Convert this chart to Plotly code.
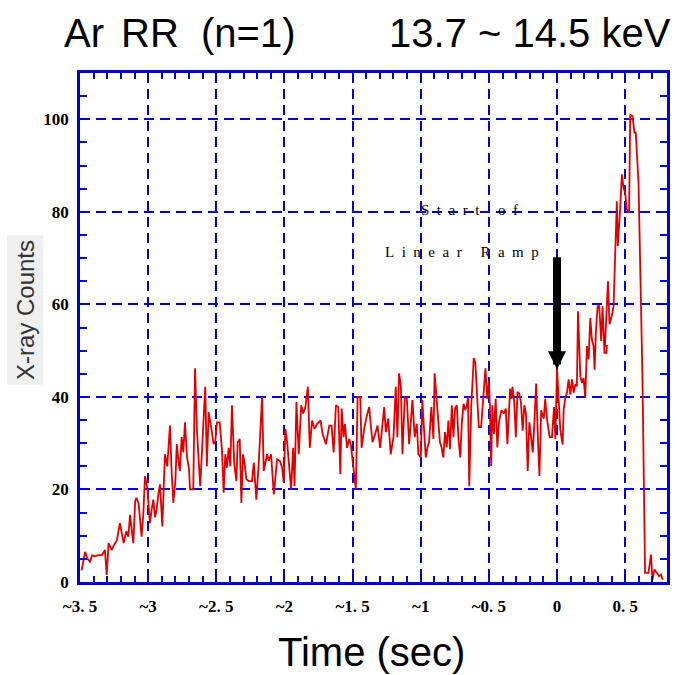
import plotly.graph_objects as go

# ---- data ----
time_a = [-3.488,-3.463,-3.445,-3.427,-3.41,-3.39,-3.37,-3.34,-3.317,-3.304,-3.29,-3.28,-3.268,-3.25,-3.23,
          -3.207,-3.19,-3.18,-3.16,-3.145,-3.133,-3.12,-3.109,-3.095,-3.085,-3.07,-3.048,-3.035,-3.023,-3.005,
          -2.987,-2.975,-2.962,-2.95,-2.938,-2.925,-2.913,-2.896,-2.885,-2.877,-2.86,-2.84,-2.828,-2.815,-2.80,
          -2.79,-2.777,-2.767,-2.754,-2.742,-2.73,-2.715,-2.70,-2.693,-2.68,-2.669,-2.656]
counts_a = [2.5,6.5,5.0,4.4,5.8,5.5,5.8,5.8,6.9,1.5,8.4,7.5,6.9,8.0,9.0,
            12.7,9.5,8.4,11.0,9.8,14.5,11.5,8.4,17.5,18.2,17.0,9.8,15.0,22.9,20.0,
            12.7,15.5,17.8,14.0,15.6,19.0,21.1,12.0,20.0,27.6,25.0,33.8,24.0,17.1,22.0,
            29.8,26.0,24.0,31.3,28.0,34.5,27.0,24.4,20.0,20.0,20.0,46.2]

time_b = [-2.642,-2.618,-2.581,-2.569,-2.556,-2.532,-2.52,-2.507,-2.495,-2.475,-2.458,-2.446,-2.434,-2.422,
          -2.409,-2.397,-2.385,-2.368,-2.353,-2.343,-2.328,-2.316,-2.304,-2.292,-2.279,-2.262,-2.238,-2.225,
          -2.206,-2.189,-2.164,-2.152,-2.127,-2.115,-2.098,-2.078,-2.054,-2.034,-2.017,-2.005,-1.993,-1.98,
          -1.968,-1.951,-1.936,-1.926,-1.912,-1.895,-1.877,-1.863,-1.846,-1.828,-1.814,-1.797,-1.779,-1.76,-1.735]
counts_b = [32.7,20.7,42.2,25.0,36.7,32.4,29.8,30.5,34.5,34.5,28.4,19.3,27.6,24.7,
            29.0,25.0,38.2,25.5,21.8,30.2,30.9,17.1,27.6,25.5,22.2,21.8,21.8,25.8,
            17.8,25.5,40.0,24.0,27.6,26.2,27.6,18.9,26.5,26.2,24.7,21.5,33.1,30.2,
            25.5,20.0,29.0,20.7,38.9,27.6,38.2,36.4,37.8,42.2,29.0,34.9,33.1,34.2,34.9]

time_c = [-1.72,-1.695,-1.671,-1.654,-1.639,-1.622,-1.605,-1.59,-1.58,-1.566,-1.556,-1.541,-1.524,-1.512,
          -1.488,-1.476,-1.463,-1.444,-1.434,-1.415,-1.395,-1.378,-1.366,-1.354,-1.341,-1.329,-1.317,-1.298,
          -1.28,-1.268,-1.256,-1.239,-1.22,-1.2,-1.183,-1.171,-1.159,-1.146,-1.134,-1.117,-1.102,-1.085,
          -1.061,-1.044,-1.029,-1.017,-1.0,-0.988,-0.976,-0.963,-0.951,-0.939,-0.922,-0.907,-0.898]
counts_c = [32.0,29.8,33.8,33.8,28.0,38.2,37.8,23.3,37.5,31.3,34.2,29.0,30.9,29.5,
            23.3,20.0,40.0,40.0,29.0,33.1,36.0,37.8,33.8,30.2,31.3,32.7,33.8,29.0,
            34.2,37.8,32.4,35.3,27.6,31.3,42.2,31.3,45.1,42.5,27.6,40.0,39.6,29.8,
            39.3,31.3,34.2,27.6,26.9,39.3,33.1,26.9,29.0,30.2,37.8,30.9,45.1]

time_d = [-0.871,-0.859,-0.847,-0.834,-0.822,-0.809,-0.797,-0.785,-0.772,-0.76,-0.748,-0.735,-0.723,-0.71,
          -0.698,-0.686,-0.673,-0.661,-0.653,-0.644,-0.629,-0.611,-0.599,-0.587,-0.574,-0.557,-0.542,-0.525,
          -0.512,-0.5,-0.493,-0.483,-0.475,-0.463,-0.45,-0.438,-0.426,-0.408,-0.389,-0.376,-0.364,-0.344,
          -0.334,-0.327,-0.314,-0.302,-0.29,-0.277,-0.265,-0.252,-0.24,-0.228,-0.215,-0.203,-0.191,-0.178,
          -0.166,-0.153,-0.141,-0.129,-0.116,-0.097,-0.087,-0.072,-0.054,-0.037,-0.022,-0.012,0.0]
counts_d = [33.1,30.2,29.1,26.9,32.4,29.1,34.9,28.7,38.2,31.3,37.5,38.2,30.9,26.9,
            34.5,38.5,37.1,38.2,40.0,20.7,38.2,48.4,47.3,40.0,33.5,33.5,39.3,46.2,
            39.6,43.3,38.5,25.1,38.2,32.0,39.6,29.1,34.5,37.1,36.4,37.5,29.8,41.8,
            39.6,42.2,38.9,31.3,41.1,40.7,38.9,32.7,38.2,36.4,24.0,34.5,31.6,28.0,
            34.5,42.9,31.6,22.9,37.1,35.3,39.6,34.9,31.3,31.3,37.8,30.9,46.2]

time_e = [0.012,0.024,0.041,0.049,0.061,0.073,0.085,0.098,0.11,0.122,0.134,0.146,0.154,0.171,
          0.183,0.195,0.207,0.22,0.232,0.244,0.256,0.268,0.276,0.285,0.298,0.31,0.324,0.334,
          0.346,0.348,0.362,0.366,0.352,0.374,0.385,0.402,0.415,0.427,0.439,0.446,0.456,0.463,
          0.476,0.488,0.5,0.512,0.529,0.537,0.554,0.568,0.578,0.598,0.627,0.646,0.671,0.69,
          0.7,0.715,0.732,0.749,0.763,0.776]
counts_e = [40.0,32.9,29.7,37.3,39.8,40.9,43.8,40.5,43.8,40.9,42.7,42.3,58.5,44.5,
            43.0,44.1,39.8,51.0,48.1,57.1,52.4,51.0,45.9,53.9,59.6,59.6,52.1,59.6,
            51.0,49.5,49.5,51.0,51.0,65.0,55.7,57.5,59.6,70.8,82.3,72.6,79.1,80.5,
            88.1,85.2,84.1,80.5,79.8,101.0,100.7,97.1,97.1,86.3,44.1,2.0,2.0,5.9,
            0.5,2.7,2.0,1.2,1.6,0.5]

time_sec = time_a + time_b + time_c + time_d + time_e
xray_counts = counts_a + counts_b + counts_c + counts_d + counts_e

x_tickvals = [-3.5, -3.0, -2.5, -2.0, -1.5, -1.0, -0.5, 0.0, 0.5]
x_ticktext = ["~3. 5", "~3", "~2. 5", "~2", "~1. 5", "~1", "~0. 5", "0", "0. 5"]
y_tickvals = [0, 20, 40, 60, 80, 100]
y_ticktext = ["0", "20", "40", "60", "80", "100"]

arrow_x = 0.0
arrow_tip = 46.0
arrow_tail = 70.5

BLUE = "#0000d8"
RED = "#e00000"
SERIF = "Liberation Serif, DejaVu Serif, serif"
SANS = "Liberation Sans, Arial, sans-serif"
NB = "\u00a0"


def spaced(word_list, gap=2, word_gap=5):
    return (NB * word_gap).join((NB * gap).join(list(w)) for w in word_list)


fig = go.Figure()
fig.add_trace(go.Scatter(x=time_sec, y=xray_counts, mode="lines",
                         line=dict(color=RED, width=1.8), showlegend=False))

axis_common = dict(
    showline=True, linecolor=BLUE, linewidth=2.5, mirror="ticks",
    ticks="inside", tickcolor=BLUE, tickwidth=2,
    showgrid=True, gridcolor=BLUE, gridwidth=2, griddash="10px,6px",
    zeroline=False,
    tickfont=dict(family=SERIF, size=17, color="black", weight="bold"),
)

fig.update_xaxes(range=[-3.5, 0.807], tickmode="array", tickvals=x_tickvals, ticktext=x_ticktext,
                 ticklen=8, minor=dict(dtick=0.1, ticks="inside", ticklen=6, tickcolor=BLUE, tickwidth=2,
                                       showgrid=False),
                 ticklabelstandoff=7, **axis_common)
fig.update_yaxes(range=[0, 110], tickmode="array", tickvals=y_tickvals, ticktext=y_ticktext,
                 ticklen=8, minor=dict(dtick=5, ticks="inside", ticklen=7, tickcolor=BLUE, tickwidth=2,
                                       showgrid=False),
                 ticklabelstandoff=5, **axis_common)

annotations = [
    dict(text="Ar", xref="paper", yref="paper", x=-0.031, y=1.079, xanchor="left", yanchor="middle",
         showarrow=False, font=dict(family=SANS, size=40, color="black")),
    dict(text="RR  (n=1)", xref="paper", yref="paper", x=0.066, y=1.079, xanchor="left", yanchor="middle",
         showarrow=False, font=dict(family=SANS, size=40, color="black")),
    dict(text="13.7 ~ 14.5 keV", xref="paper", yref="paper", x=1.01, y=1.079, xanchor="right", yanchor="middle",
         showarrow=False, font=dict(family=SANS, size=40, color="black")),
    dict(text="Time (sec)", xref="paper", yref="paper", x=0.497, y=-0.138, xanchor="center", yanchor="middle",
         showarrow=False, font=dict(family=SANS, size=40, color="black")),
    dict(text="X-ray Counts", xref="paper", yref="paper", x=-0.094, y=0.534, xanchor="center", yanchor="middle",
         textangle=-90, showarrow=False, bgcolor="#efefef", borderpad=4,
         font=dict(family=SANS, size=24, color="#333333")),
    dict(text=spaced(["Start", "of"]), x=-0.64, y=80.3, xref="x", yref="y", showarrow=False,
         font=dict(family=SERIF, size=15, color="black")),
    dict(text=spaced(["Linear", "Ramp"]), x=-0.70, y=71.3, xref="x", yref="y", showarrow=False,
         font=dict(family=SERIF, size=15, color="black")),
    dict(text="", x=arrow_x, y=arrow_tip, ax=arrow_x, ay=arrow_tail, xref="x", yref="y",
         axref="x", ayref="y", showarrow=True, arrowhead=2, arrowsize=0.45, arrowwidth=8,
         arrowcolor="black", standoff=0),
]

fig.update_layout(
    width=681, height=675,
    margin=dict(l=80, r=14, t=73, b=93),
    paper_bgcolor="white", plot_bgcolor="white",
    annotations=annotations,
    showlegend=False,
)

fig.write_html("out.html", config={"displayModeBar": False},
               post_script="document.body.style.margin='0';document.body.style.overflow='hidden';")
